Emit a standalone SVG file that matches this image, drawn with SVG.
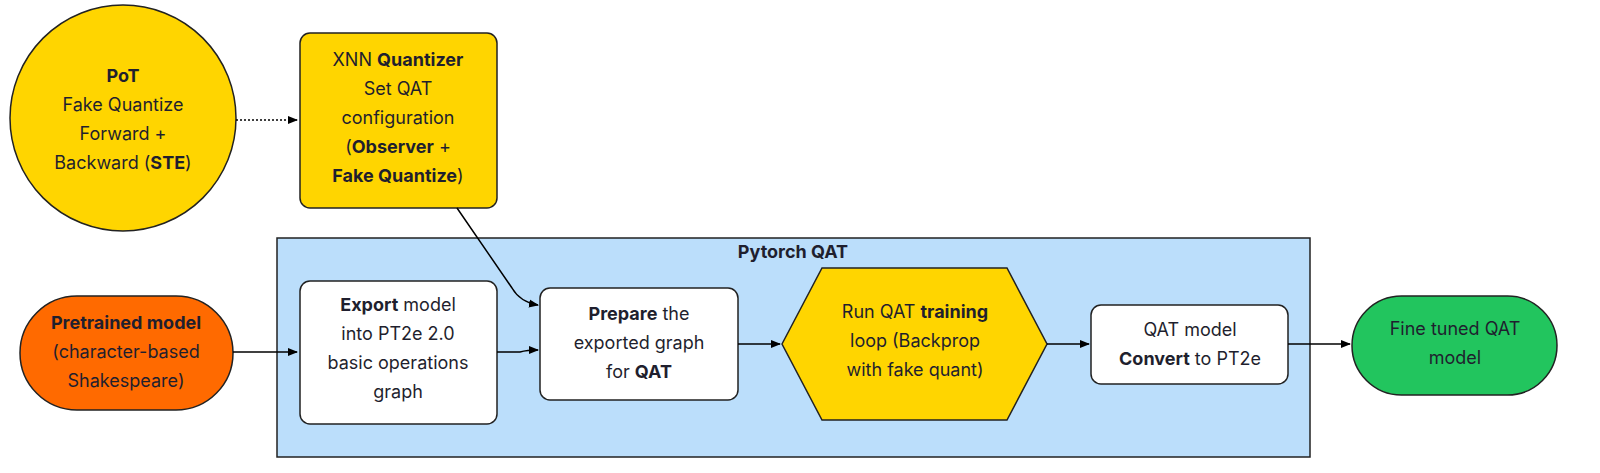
<svg xmlns="http://www.w3.org/2000/svg" width="1600" height="473" viewBox="0 0 1600 473">
<defs>
<marker id="ah" markerWidth="10" markerHeight="10" refX="9" refY="5" orient="auto" markerUnits="userSpaceOnUse"><path d="M0,1 L10,5 L0,9 Z" fill="#000"/></marker>
<style>
text{font-family:"Inter","Liberation Sans",sans-serif;font-size:18px;fill:#1f1f2e;text-anchor:middle}
.b{font-weight:bold}
.n{stroke:#222;stroke-width:1.5}
.c{fill:none;stroke:#000;stroke-width:1.5}
</style>
</defs>
<rect width="1600" height="473" fill="#fff"/>
<g id="pytorch-qat"><rect x="277" y="238" width="1033" height="219" fill="#BBDEFB" class="n"/><text x="793" y="258" class="b">Pytorch QAT</text></g>
<g id="pot"><circle cx="123" cy="118" r="113" fill="#FFD500" class="n"/><text x="123" y="82" class="b">PoT</text><text x="123" y="111">Fake Quantize</text><text x="123" y="140">Forward +</text><text x="123" y="169">Backward (<tspan class="b">STE</tspan>)</text></g>
<g id="xnn"><rect x="300" y="33" width="197" height="175" rx="10" fill="#FFD500" class="n"/><text x="398" y="66">XNN <tspan class="b">Quantizer</tspan></text><text x="398" y="95">Set QAT</text><text x="398" y="124">configuration</text><text x="398" y="153">(<tspan class="b">Observer</tspan> +</text><text x="398" y="182" class="b">Fake Quantize<tspan style="font-weight:normal">)</tspan></text></g>
<g id="pretrained"><rect x="20" y="296" width="213" height="114" rx="57" fill="#FF6A00" class="n"/><text x="126" y="329" class="b">Pretrained model</text><text x="126" y="358">(character-based</text><text x="126" y="387">Shakespeare)</text></g>
<g id="export"><rect x="300" y="281" width="197" height="143" rx="10" fill="#fff" class="n"/><text x="398" y="311"><tspan class="b">Export</tspan> model</text><text x="398" y="340">into PT2e 2.0</text><text x="398" y="369">basic operations</text><text x="398" y="398">graph</text></g>
<g id="prepare"><rect x="540" y="288" width="198" height="112" rx="10" fill="#fff" class="n"/><text x="639" y="320"><tspan class="b">Prepare</tspan> the</text><text x="639" y="349">exported graph</text><text x="639" y="378">for <tspan class="b">QAT</tspan></text></g>
<g id="run"><polygon points="782,344 822,268 1007,268 1047,344 1007,420 822,420" fill="#FFD500" class="n"/><text x="915" y="318">Run QAT <tspan class="b">training</tspan></text><text x="915" y="347">loop (Backprop</text><text x="915" y="376">with fake quant)</text></g>
<g id="convert"><rect x="1091" y="305" width="197" height="79" rx="10" fill="#fff" class="n"/><text x="1190" y="336">QAT model</text><text x="1190" y="365"><tspan class="b">Convert</tspan> to PT2e</text></g>
<g id="fine"><rect x="1352" y="296" width="205" height="99" rx="49.5" fill="#22C55E" class="n"/><text x="1455" y="335">Fine tuned QAT</text><text x="1455" y="364">model</text></g>
<g id="connectors">
<path d="M236,120 L297,120" class="c" stroke-dasharray="2,2" marker-end="url(#ah)"/>
<path d="M457,208 L512,288 Q520,302 538,305" class="c" marker-end="url(#ah)"/>
<path d="M233,352 L297,352" class="c" marker-end="url(#ah)"/>
<path d="M497,352 L520,352 Q527,350 538,350" class="c" marker-end="url(#ah)"/>
<path d="M738,344 L780,344" class="c" marker-end="url(#ah)"/>
<path d="M1047,344 L1089,344" class="c" marker-end="url(#ah)"/>
<path d="M1288,344 L1350,344" class="c" marker-end="url(#ah)"/>
</g>
</svg>
